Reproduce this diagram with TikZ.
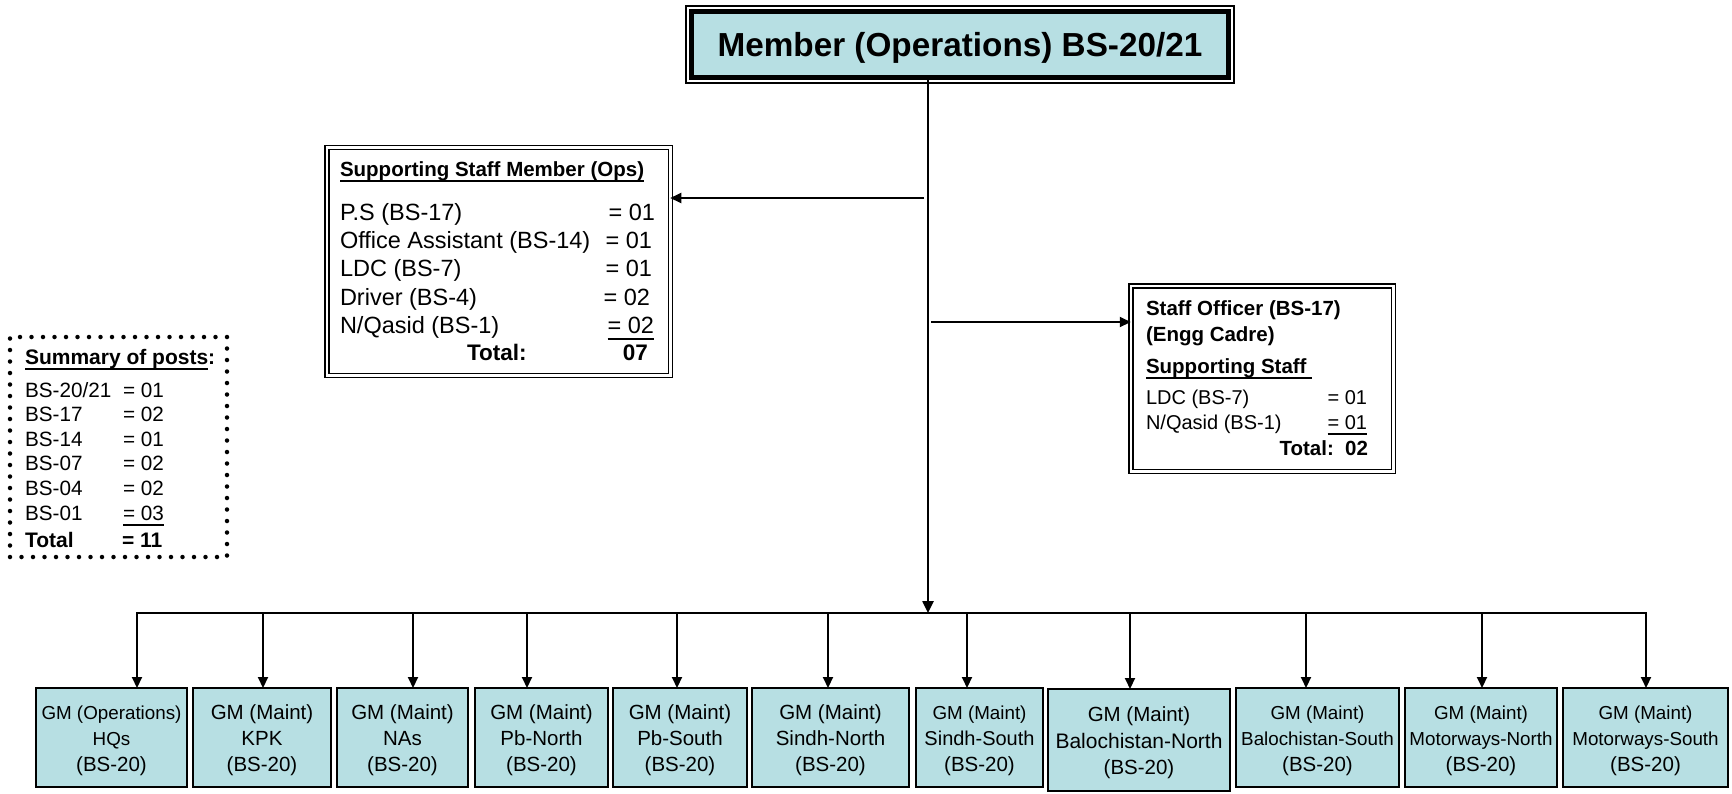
\documentclass[tikz,border=0pt]{standalone}
\usepackage{fontspec}
\setmainfont{Liberation Sans}
\usetikzlibrary{arrows.meta,calc}
\definecolor{boxfill}{RGB}{183,223,227}
\newcommand\fsz[1]{\fontsize{#1}{26}\selectfont}
\newcommand\thul[1]{\leavevmode\setbox0=\hbox{#1}\rlap{\vrule width\wd0 height -4pt depth 6pt}\box0}
\begin{document}
\begin{tikzpicture}[x=1pt,y=-1pt,
  gm/.style={draw, line width=2pt, fill=boxfill, inner sep=0pt, outer sep=0pt},
  gmt/.style={inner sep=0pt, outer sep=0pt, align=center, font=\fontsize{20.5}{26}\selectfont},
  arr/.style={-{Triangle[length=11pt,width=10pt]}, line width=2pt},
  dbl/.style={draw, double, double distance=2.5pt, line width=1.5pt, inner sep=0pt, outer sep=0pt},
  big/.style={inner sep=0pt, outer sep=0pt, font=\fontsize{23.5}{28}\selectfont},
  bigb/.style={inner sep=0pt, outer sep=0pt, font=\fontsize{22.5}{28}\bfseries},
  sm/.style={inner sep=0pt, outer sep=0pt, font=\fontsize{20}{24}\selectfont},
  smb/.style={inner sep=0pt, outer sep=0pt, font=\fontsize{20.5}{24}\bfseries},
  sum/.style={inner sep=0pt, outer sep=0pt, font=\fontsize{20.7}{24}\selectfont},
  sumb/.style={inner sep=0pt, outer sep=0pt, font=\fontsize{21}{24}\bfseries},
  bw/.style={anchor=base west},
  be/.style={anchor=base east}
]
\useasboundingbox (0,0) rectangle (1732,793);

% top box
\node[draw, line width=5pt, fill=boxfill, minimum width=537pt, minimum height=66pt, inner sep=0pt, outer sep=0pt] (top) at (960,44.5) {};
\draw[line width=1.5pt] ($(top.north west)+(-5.5pt,5.5pt)$) rectangle ($(top.south east)+(5.5pt,-5.5pt)$);
\node[inner sep=0pt, font=\fontsize{33.3}{40}\bfseries] (topt) at ([yshift=-3pt]top.center) {Member (Operations) BS-20/21};

% supporting staff box
\node[dbl, minimum width=343.5pt, minimum height=228pt] (ss) at (498.5,261.5) {};
\node[smb, bw] (sst) at (340,176) {\thul{Supporting Staff Member (Ops)}};
\node[big, bw] (s1l) at (340,220) {P.S (BS-17)};
\node[big, be] (s1r) at (655,220) {= 01};
\node[big, bw] (s2l) at (340,248.4) {Office Assistant (BS-14)};
\node[big, be] (s2r) at (652,248.4) {= 01};
\node[big, bw] (s3l) at (340,276.8) {LDC (BS-7)};
\node[big, be] (s3r) at (652,276.8) {= 01};
\node[big, bw] (s4l) at (340,305.2) {Driver (BS-4)};
\node[big, be] (s4r) at (650,305.2) {= 02};
\node[big, bw] (s5l) at (340,333.6) {N/Qasid (BS-1)};
\node[big, be] (s5r) at (654,333.6) {\thul{= 02}};
\node[bigb, bw] (stl) at (467,360) {Total:};
\node[bigb, be] (str) at (648,360) {07};

% staff officer box
\node[dbl, minimum width=262.5pt, minimum height=185.5pt] (so) at (1262,378.5) {};
\node[smb, bw] (o1) at (1146,315) {Staff Officer (BS-17)};
\node[smb, bw] (o2) at (1146,341) {(Engg Cadre)};
\node[smb, bw] (o3) at (1146,373) {\thul{Supporting Staff\ }};
\node[sm, bw] (o4l) at (1146,404) {LDC (BS-7)};
\node[sm, be] (o4r) at (1367,404) {= 01};
\node[sm, bw] (o5l) at (1146,429) {N/Qasid (BS-1)};
\node[sm, be] (o5r) at (1367,429) {\thul{= 01}};
\node[smb, be] (o6) at (1368,455) {Total:\ \ 02};

% summary box
\node[draw, line width=4.5pt, dash pattern=on 0pt off 11.5pt, line cap=round, minimum width=217pt, minimum height=220pt, inner sep=0pt, outer sep=0pt] (sumbox) at (118.5,447) {};
\node[sumb, bw] (ut) at (25,364) {\thul{Summary of posts}:};
\node[sum, bw] (u1l) at (25,397) {BS-20/21};
\node[sum, bw] (u1r) at (123,397) {= 01};
\node[sum, bw] (u2l) at (25,421.6) {BS-17};
\node[sum, bw] (u2r) at (123,421.6) {= 02};
\node[sum, bw] (u3l) at (25,446.2) {BS-14};
\node[sum, bw] (u3r) at (123,446.2) {= 01};
\node[sum, bw] (u4l) at (25,470.8) {BS-07};
\node[sum, bw] (u4r) at (123,470.8) {= 02};
\node[sum, bw] (u5l) at (25,495.4) {BS-04};
\node[sum, bw] (u5r) at (123,495.4) {= 02};
\node[sum, bw] (u6l) at (25,520) {BS-01};
\node[sum, bw] (u6r) at (123,520) {\thul{= 03}};
\node[sumb, bw] (u7l) at (25,547) {Total};
\node[sumb, bw] (u7r) at (122,547) {= 11};

% bottom boxes
\node[gm, minimum width=151pt, minimum height=99pt] (g1) at (111.5,737.5) {};
\node[gmt] (g1t) at ([yshift=-3pt]g1.center) {{\fsz{18.8}GM (Operations)}\\{\fsz{18.8}HQs}\\(BS-20)};
\node[gm, minimum width=138pt, minimum height=99pt] (g2) at (262,737.5) {};
\node[gmt] (g2t) at ([yshift=-3pt]g2.center) {GM (Maint)\\KPK\\(BS-20)};
\node[gm, minimum width=131pt, minimum height=99pt] (g3) at (402.5,737.5) {};
\node[gmt] (g3t) at ([yshift=-3pt]g3.center) {GM (Maint)\\NAs\\(BS-20)};
\node[gm, minimum width=133pt, minimum height=99pt] (g4) at (541.5,737.5) {};
\node[gmt] (g4t) at ([yshift=-3pt]g4.center) {GM (Maint)\\Pb-North\\(BS-20)};
\node[gm, minimum width=134pt, minimum height=99pt] (g5) at (680,737.5) {};
\node[gmt] (g5t) at ([yshift=-3pt]g5.center) {GM (Maint)\\Pb-South\\(BS-20)};
\node[gm, minimum width=157pt, minimum height=99pt] (g6) at (830.5,737.5) {};
\node[gmt] (g6t) at ([yshift=-3pt]g6.center) {GM (Maint)\\Sindh-North\\(BS-20)};
\node[gm, minimum width=127pt, minimum height=99pt] (g7) at (979.5,737.5) {};
\node[gmt] (g7t) at ([yshift=-3pt]g7.center) {{\fsz{18.8}GM (Maint)}\\{\fsz{20}Sindh-South}\\(BS-20)};
\node[gm, minimum width=182pt, minimum height=102pt] (g8) at (1139,740) {};
\node[gmt, font=\fontsize{20.5}{26.5}\selectfont] (g8t) at ([yshift=-3pt]g8.center) {GM (Maint)\\{\fontsize{21}{26.5}\selectfont Balochistan-North}\\(BS-20)};
\node[gm, minimum width=163pt, minimum height=99pt] (g9) at (1317.5,737.5) {};
\node[gmt] (g9t) at ([yshift=-3pt]g9.center) {{\fsz{18.8}GM (Maint)}\\{\fsz{18.8}Balochistan-South}\\(BS-20)};
\node[gm, minimum width=152pt, minimum height=99pt] (g10) at (1481,737.5) {};
\node[gmt] (g10t) at ([yshift=-3pt]g10.center) {{\fsz{18.8}GM (Maint)}\\{\fsz{18.8}Motorways-North}\\(BS-20)};
\node[gm, minimum width=165pt, minimum height=99pt] (g11) at (1645.5,737.5) {};
\node[gmt] (g11t) at ([yshift=-3pt]g11.center) {{\fsz{18.8}GM (Maint)}\\{\fsz{18.8}Motorways-South}\\(BS-20)};

% connectors
\coordinate (hub) at (928,613);
\draw[line width=2.5pt, -{Triangle[length=12pt,width=11pt]}] (top.south -| hub) -- (hub);
\coordinate (j1) at (924,198);
\draw[arr] (j1) -- (j1 -| ss.east);
\coordinate (j2) at (931,322);
\draw[arr] (j2) -- (j2 -| so.west);

\coordinate (d1) at (137,613);
\coordinate (d2) at (263,613);
\coordinate (d3) at (413,613);
\coordinate (d4) at (527,613);
\coordinate (d5) at (677,613);
\coordinate (d6) at (828,613);
\coordinate (d7) at (967,613);
\coordinate (d8) at (1130,613);
\coordinate (d9) at (1306,613);
\coordinate (d10) at (1482,613);
\coordinate (d11) at (1646,613);
\draw[line width=2.5pt, line cap=rect] (d1) -- (d11);
\foreach \i in {1,...,11} {\draw[arr] (d\i) -- (d\i |- g\i.north);}
\end{tikzpicture}
\end{document}
